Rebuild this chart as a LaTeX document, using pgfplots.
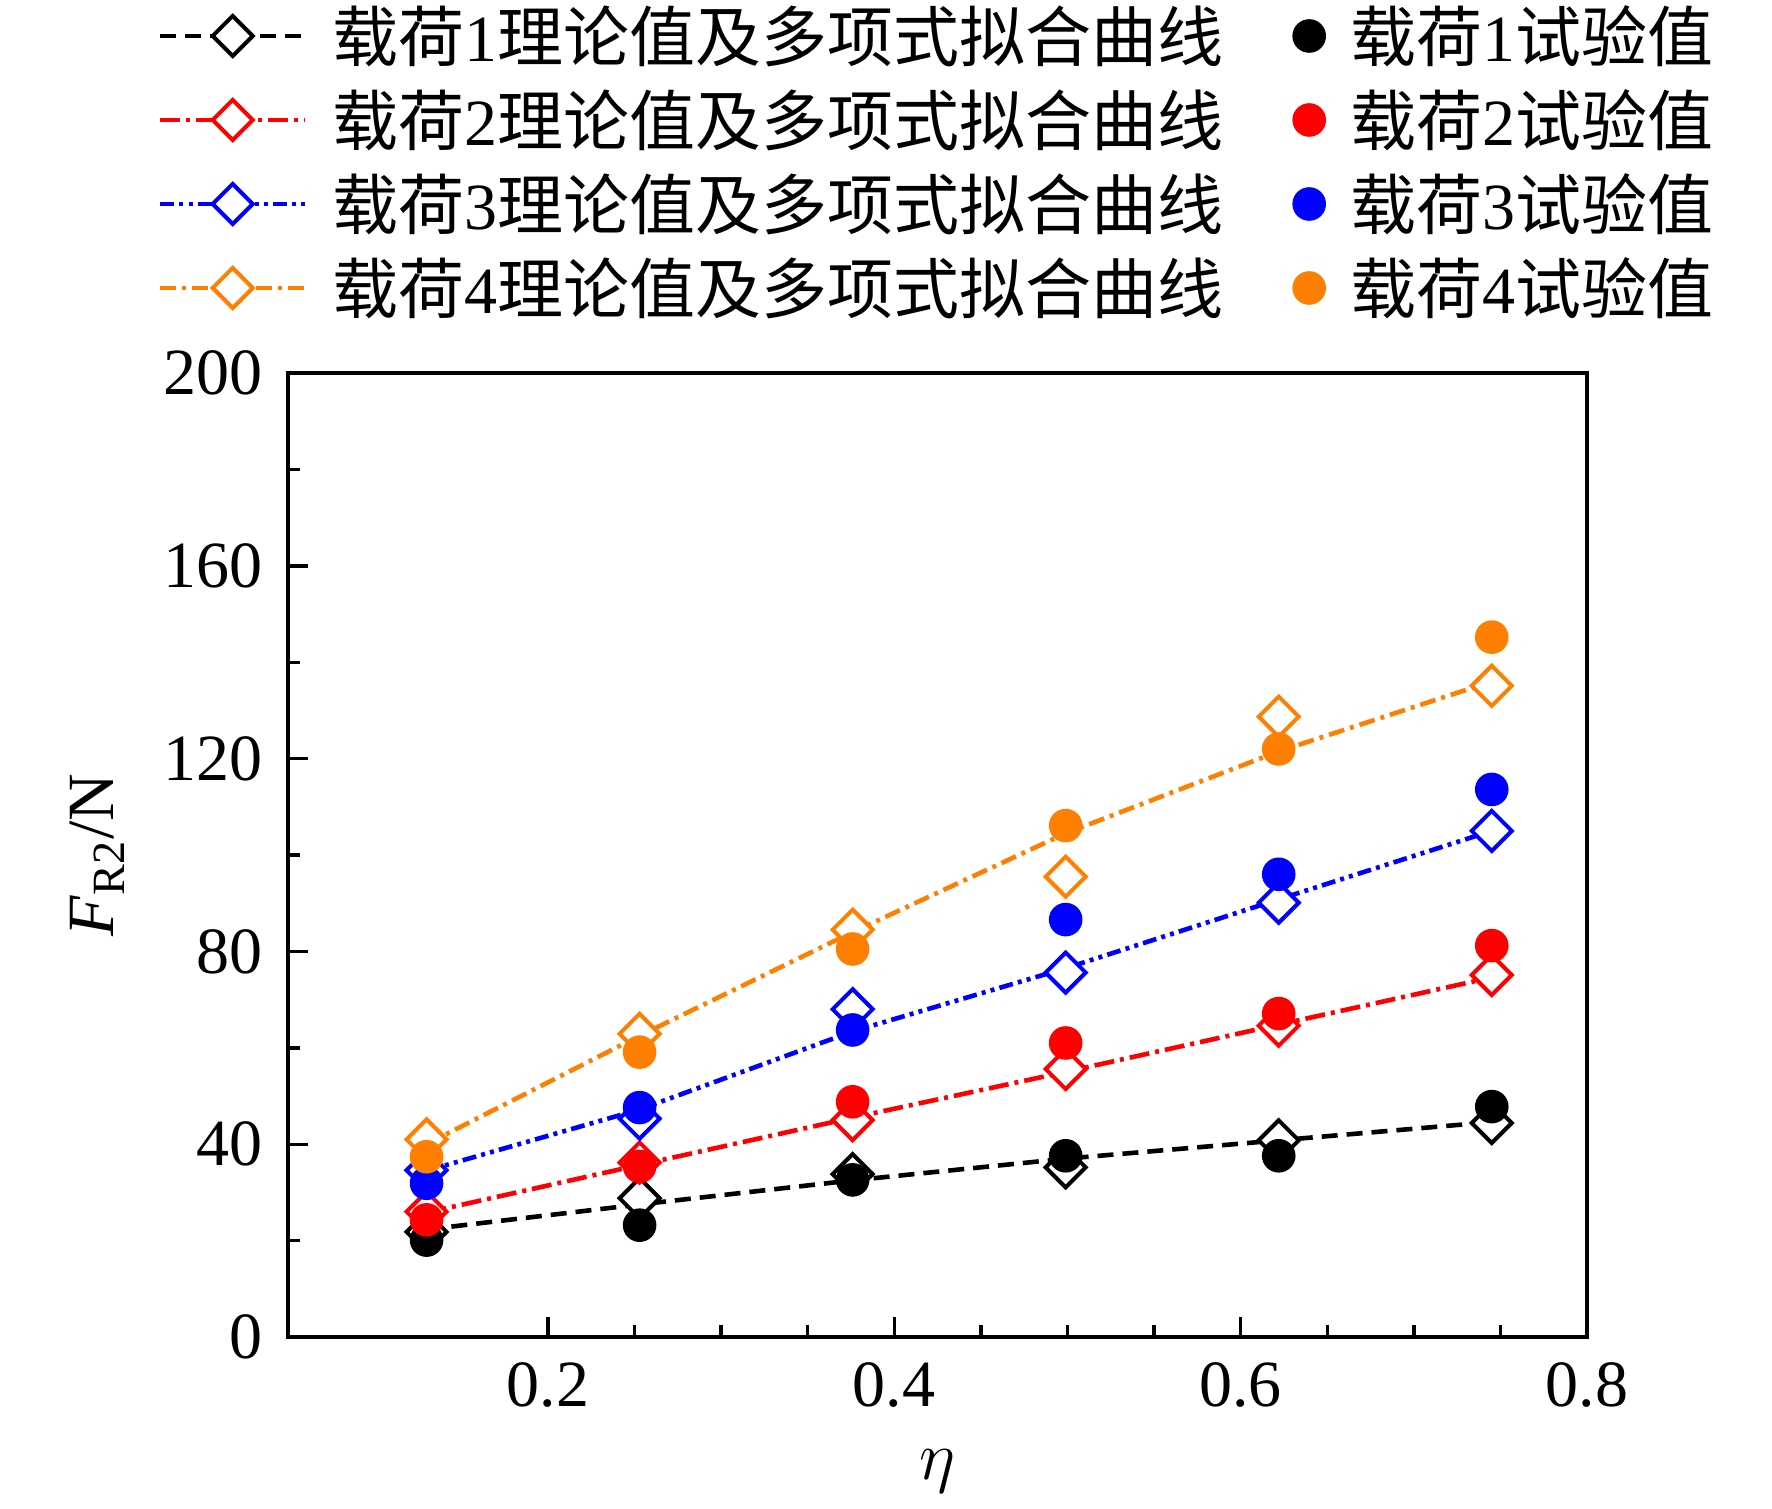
\documentclass[border=0pt]{standalone}
\usepackage{fontspec}
\setmainfont{Liberation Serif}
\newfontfamily\cjk{Noto Sans CJK SC}
\usepackage{pgfplots}
\usepackage{pgfplotstable}
\pgfplotsset{compat=1.18}

\definecolor{cOr}{RGB}{255,128,0}
\newcommand{\fs}{\fontsize{16.5}{19}\selectfont}

\pgfplotsset{
  lineleg/.style={legend image code/.code={%
    \draw[##1, mark=none] plot coordinates {(0pt,0pt)(36.2pt,0pt)};
    \draw[##1, only marks] plot coordinates {(18.1pt,0pt)};}},
  circleg/.style={legend image code/.code={\draw[mark repeat=2,mark phase=2,##1] plot coordinates {(0pt,0pt)(4.5pt,0pt)(9pt,0pt)};}},
  dia/.style={mark=square*, mark size=3.54pt, mark options={solid, rotate=45, fill=white, line width=1pt}},
  circ/.style={only marks, mark=*, mark size=4pt, mark options={solid}},
  fitl/.style={line width=1.15pt},
  dA/.style={dash pattern=on 4pt off 2.25pt},
  dB/.style={dash pattern=on 5pt off 1.5pt on 1pt off 1.5pt},
  dC/.style={dash pattern=on 3.5pt off 1.3pt on 1pt off 1.3pt on 1pt off 1.3pt},
  dD/.style={dash pattern=on 4pt off 1.5pt on 1pt off 1.5pt},
}

\pgfplotstableread{
x th1 ex1 fit1 th2 ex2 fit2 th3 ex3 fit3 th4 ex4 fit4
0.130 21.8 20.1 22.3 26.0 24.3 25.8 34.6 31.9 34.5 41.0 37.4 40.0
0.253 28.8 23.2 27.5 36.2 35.4 35.7 45.3 47.6 47.2 62.9 59.1 62.5
0.376 33.8 32.6 32.5 45.0 48.8 45.5 68.0 63.7 63.4 84.5 80.5 84.0
0.499 35.2 37.6 37.0 55.6 61.0 55.0 75.6 86.6 76.5 95.5 106.1 104.5
0.622 40.8 37.6 40.8 64.6 67.1 64.8 90.1 96.0 90.8 128.7 122.0 121.5
0.745 44.4 47.8 44.6 75.1 81.2 74.6 105.0 113.6 105.0 135.1 145.2 136.0
}\data

\begin{document}
\begin{tikzpicture}
\begin{axis}[
  scale only axis,
  width=324.75pt, height=241pt,
  xmin=0.05, xmax=0.8, ymin=0, ymax=200,
  xtick={0.2,0.4,0.6,0.8}, minor x tick num=3,
  ytick={0,40,80,120,160,200}, minor y tick num=1,
  tick align=inside, xtick pos=bottom, ytick pos=left,
  major tick length=5pt, minor tick length=2.9pt,
  axis line style={line width=0.85pt},
  every tick/.style={black, line width=0.85pt},
  /pgf/number format/assume math mode=true,
  tick label style={font=\fs},
  yticklabel style={inner sep=0pt, xshift=-6.25pt},
  xticklabel style={inner sep=0pt, yshift=-6.25pt},
  xlabel={$\eta$},
  ylabel={\textit{F}\textsubscript{R2}/N},
  xlabel style={at={(axis description cs:0.5,-0.1483)}, anchor=base, font=\fs},
  ylabel style={at={(axis description cs:-0.134,0.5)}, anchor=base, font=\fs},
  legend columns=2,
  legend cell align=left,
  legend style={at={(axis description cs:0,1)}, anchor=north west,
    xshift=-32.5pt, yshift=93.25pt, draw=none, fill=none,
    inner sep=0pt, outer sep=0pt, column sep=6.2pt, row sep=3pt, font=\fs,
    nodes={inner sep=0pt, text height=15.3pt, text depth=2.7pt},
    /tikz/every even column/.append style={column sep=17.5pt}},
]
% legend entries
\addlegendimage{lineleg, black, fitl, dA, dia}
\addlegendentry{{\cjk 载荷}1{\cjk 理论值及多项式拟合曲线}}
\addlegendimage{circleg, only marks, black, mark=*, mark size=4pt}
\addlegendentry{{\cjk 载荷}1{\cjk 试验值}}
\addlegendimage{lineleg, red, fitl, dB, dia}
\addlegendentry{{\cjk 载荷}2{\cjk 理论值及多项式拟合曲线}}
\addlegendimage{circleg, only marks, red, mark=*, mark size=4pt}
\addlegendentry{{\cjk 载荷}2{\cjk 试验值}}
\addlegendimage{lineleg, blue, fitl, dC, dia}
\addlegendentry{{\cjk 载荷}3{\cjk 理论值及多项式拟合曲线}}
\addlegendimage{circleg, only marks, blue, mark=*, mark size=4pt}
\addlegendentry{{\cjk 载荷}3{\cjk 试验值}}
\addlegendimage{lineleg, cOr, fitl, dD, dia}
\addlegendentry{{\cjk 载荷}4{\cjk 理论值及多项式拟合曲线}}
\addlegendimage{circleg, only marks, cOr, mark=*, mark size=4pt}
\addlegendentry{{\cjk 载荷}4{\cjk 试验值}}

% theoretical values (diamonds)
\addplot[forget plot, black, only marks, dia] table[x=x,y=th1]{\data};
\addplot[forget plot, red, only marks, dia] table[x=x,y=th2]{\data};
\addplot[forget plot, blue, only marks, dia] table[x=x,y=th3]{\data};
\addplot[forget plot, cOr, only marks, dia] table[x=x,y=th4]{\data};
% experimental values (circles)
\addplot[forget plot, black, circ] table[x=x,y=ex1]{\data};
\addplot[forget plot, red, circ] table[x=x,y=ex2]{\data};
\addplot[forget plot, blue, circ] table[x=x,y=ex3]{\data};
\addplot[forget plot, cOr, circ] table[x=x,y=ex4]{\data};
% polynomial fit curves
\addplot[forget plot, black, fitl, dA, no marks] table[x=x,y=fit1]{\data};
\addplot[forget plot, red, fitl, dB, no marks] table[x=x,y=fit2]{\data};
\addplot[forget plot, blue, fitl, dC, no marks] table[x=x,y=fit3]{\data};
\addplot[forget plot, cOr, fitl, dD, no marks] table[x=x,y=fit4]{\data};
\end{axis}
\path (current axis.south west) ++(-72pt,-42.75pt);
\path (current axis.north east) ++(46.25pt,93.25pt);
\end{tikzpicture}
\end{document}
